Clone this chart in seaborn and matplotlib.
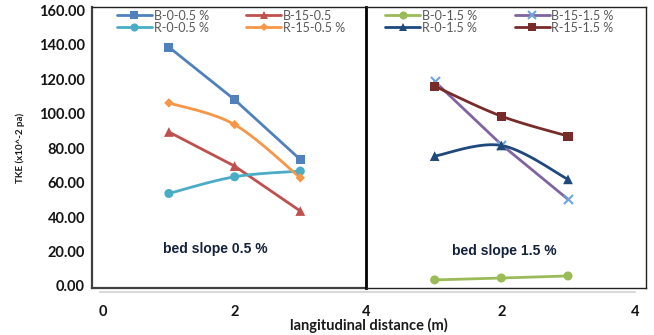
import numpy as np
import pandas as pd
import matplotlib
matplotlib.use("Agg")
import matplotlib.pyplot as plt
from matplotlib.lines import Line2D
import seaborn as sns

sns.set_theme(style="white")
plt.rcParams["font.family"] = ["Lato", "DejaVu Sans"]

# longitudinal stations (m)
distance = [1, 2, 3]

# TKE (x10^-2 Pa), bed slope 0.5 %
b0_05 = [138.7, 108.2, 73.4]
b15_05 = [89.4, 69.6, 43.5]
r0_05 = [53.7, 63.4, 66.7]
r15_05 = [106.3, 93.7, 62.8]

# TKE (x10^-2 Pa), bed slope 1.5 %
b0_15 = [3.5, 4.6, 5.8]
b15_15 = [118.8, 82.1, 50.3]
r0_15 = [75.4, 81.6, 61.9]
r15_15 = [116.0, 98.6, 87.0]

y_ticks = [0, 20, 40, 60, 80, 100, 120, 140, 160]


def smooth_curve(x, y, n=40):
    """Cardinal (Bezier) smoothing through the given points."""
    p = np.column_stack([x, y]).astype(float)
    pts = []
    for i in range(len(p) - 1):
        p0 = p[i - 1] if i > 0 else p[i]
        p3 = p[i + 2] if i + 2 < len(p) else p[i + 1]
        c1 = p[i] + (p[i + 1] - p0) / 6.0
        c2 = p[i + 1] - (p3 - p[i]) / 6.0
        t = np.linspace(0, 1, n)[:, None]
        seg = ((1 - t) ** 3) * p[i] + 3 * ((1 - t) ** 2) * t * c1 \
            + 3 * (1 - t) * t ** 2 * c2 + t ** 3 * p[i + 1]
        pts.append(seg if i == 0 else seg[1:])
    pts = np.vstack(pts)
    return pts[:, 0], pts[:, 1]


fig = plt.figure(figsize=(6.54, 3.35), dpi=100)
ax1 = fig.add_axes([92 / 654, 1 - 288 / 335, 274 / 654, 281 / 335])
ax2 = fig.add_axes([366 / 654, 1 - 288 / 335, 280 / 654, 281 / 335])

series_left = [
    ("B-0-0.5 %", b0_05, "#4F81BD", "#4F81BD", "s", 6.5, False),
    ("B-15-0.5", b15_05, "#C0504D", "#C0504D", "^", 7.0, False),
    ("R-0-0.5 %", r0_05, "#4BACC6", "#4BACC6", "o", 6.5, True),
    ("R-15-0.5 %", r15_05, "#F79646", "#F79646", "D", 4.8, True),
]
series_right = [
    ("B-0-1.5 %", b0_15, "#9BBB59", "#9BBB59", "o", 6.5, True),
    ("B-15-1.5 %", b15_15, "#8064A2", "#6FA3DE", "x", 6.5, False),
    ("R-0-1.5 %", r0_15, "#1F497D", "#1F497D", "^", 7.0, True),
    ("R-15-1.5 %", r15_15, "#772C2A", "#772C2A", "s", 6.5, True),
]


def draw(ax, series):
    handles = []
    for label, vals, lc, mc, mk, ms, smooth in series:
        df = pd.DataFrame({"x": distance, "y": vals})
        if smooth:
            xs, ys = smooth_curve(df["x"], df["y"])
            ax.plot(xs, ys, color=lc, lw=2.0, solid_capstyle="round", zorder=2)
        else:
            sns.lineplot(data=df, x="x", y="y", ax=ax, color=lc, lw=2.0,
                         zorder=2, legend=False)
        sns.scatterplot(data=df, x="x", y="y", ax=ax, marker=mk, color=mc,
                        s=ms ** 2, linewidth=1.5 if mk == "x" else 0,
                        edgecolor=mc if mk == "x" else "none", zorder=3,
                        legend=False)
        handles.append(Line2D([], [], color=lc, lw=2.0, marker=mk, ms=ms * 0.9,
                              mfc=mc, mec=mc, mew=1.5 if mk == "x" else 0))
    return handles


h1 = draw(ax1, series_left)
h2 = draw(ax2, series_right)

for ax in (ax1, ax2):
    ax.set_ylim(-1.2, 162)
    ax.set_xlabel("")
    ax.set_ylabel("")
    ax.tick_params(length=0, labelsize=10.5, colors="#141414")
    ax.tick_params(axis="y", pad=5)
    ax.tick_params(axis="x", pad=12)

ax1.set_xlim(-0.17, 4.0)
ax1.set_xticks([0, 2, 4])
ax1.set_xticklabels(["0", "2", "4"], fontweight="bold")
ax1.set_yticks(y_ticks)
ax1.set_yticklabels([f"{v:.2f}" for v in y_ticks], fontweight="bold")

ax2.set_xlim(-0.03, 4.17)
ax2.set_xticks([2, 4])
ax2.set_xticklabels(["2", "4"], fontweight="bold")
ax2.set_yticks(y_ticks)
ax2.tick_params(labelleft=False)

# frame styling
for side in ("left", "bottom"):
    ax1.spines[side].set_color("#404040")
    ax1.spines[side].set_linewidth(1.6)
ax1.spines["top"].set_color("#202020")
ax1.spines["top"].set_linewidth(1.0)
ax1.spines["right"].set_visible(False)
for side in ("top", "right", "bottom"):
    ax2.spines[side].set_color("#202020")
    ax2.spines[side].set_linewidth(1.0)
ax2.spines["left"].set_color("black")
ax2.spines["left"].set_linewidth(2.0)

# faint baseline under the panels
fig.add_artist(Line2D([100 / 654, 635 / 654], [1 - 291.5 / 335] * 2,
                      color="#D9D9D9", lw=1.5))

# two-column legends filled row by row
order = [0, 2, 1, 3]
leg_kw = dict(ncol=2, frameon=False, fontsize=9, handlelength=2.8,
              handletextpad=0.15, columnspacing=3.0, labelspacing=0.0,
              borderaxespad=0, borderpad=0, loc="upper left")
leg1 = ax1.legend([h1[i] for i in order], [series_left[i][0] for i in order],
                  bbox_to_anchor=(0.09, 0.99), **leg_kw)
leg2 = ax2.legend([h2[i] for i in order], [series_right[i][0] for i in order],
                  bbox_to_anchor=(0.068, 0.99), **leg_kw)
for leg in (leg1, leg2):
    for t in leg.get_texts():
        t.set_color("#595959")

ann_font = ["Liberation Sans", "DejaVu Sans"]
ax1.text(1.7, 21.5, "bed slope 0.5 %", ha="center", va="center",
         fontsize=10, fontweight="bold", color="#14213d", family=ann_font)
ax2.text(2.05, 20, "bed slope 1.5 %", ha="center", va="center",
         fontsize=10, fontweight="bold", color="#14213d", family=ann_font)

fig.text(20 / 654, 1 - 148 / 335, "TKE (x10^-2 pa)", rotation=90,
         ha="center", va="center", fontsize=7, fontweight="bold",
         color="#1a1a1a")
fig.text(369 / 654, 1 - 325 / 335, "langitudinal distance (m)",
         ha="center", va="center", fontsize=10.5, fontweight="bold",
         color="#1a1a1a")

fig.savefig("out.png", dpi=100)
